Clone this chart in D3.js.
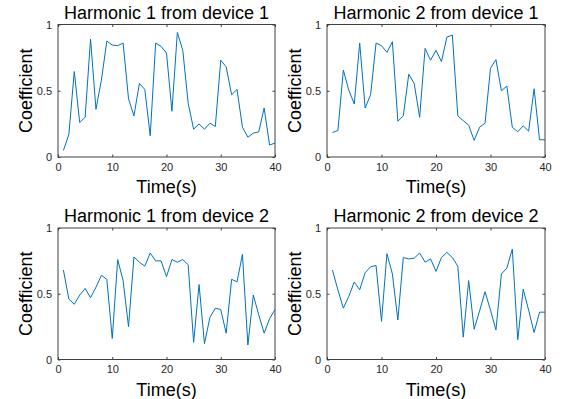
<!DOCTYPE html>
<html>
<head>
<meta charset="utf-8">
<script src="https://cdn.jsdelivr.net/npm/d3@7"></script>
<style>
  body { margin: 0; background: #fff; }
  svg { display: block; }
  .tick text { font-family: "Liberation Sans", Arial, sans-serif; font-size: 11px; fill: #262626; }
  .lbl { font-family: "Liberation Sans", Arial, sans-serif; font-size: 18px; fill: #000; }
</style>
</head>
<body>
<div id="container"></div>
<script>
const times = [1,2,3,4,5,6,7,8,9,10,11,12,13,14,15,16,17,18,19,20,
  21,22,23,24,25,26,27,28,29,30,31,32,33,34,35,36,37,38,39,40]

const h1dev1 = [0.05,0.17,0.645,0.26,0.30,0.89,0.36,0.58,0.875,0.845,
  0.84,0.86,0.44,0.31,0.555,0.51,0.16,0.86,0.835,0.785,
  0.345,0.94,0.805,0.405,0.21,0.25,0.21,0.255,0.23,0.73,
  0.68,0.47,0.51,0.225,0.15,0.18,0.19,0.37,0.09,0.105]

const h2dev1 = [0.185,0.20,0.655,0.505,0.40,0.86,0.37,0.47,0.86,0.84,
  0.79,0.87,0.27,0.31,0.625,0.555,0.30,0.82,0.73,0.805,
  0.72,0.905,0.92,0.31,0.275,0.24,0.125,0.225,0.255,0.67,
  0.735,0.50,0.535,0.225,0.19,0.235,0.195,0.515,0.13,0.13]

const h1dev2 = [0.68,0.46,0.42,0.49,0.54,0.47,0.55,0.64,0.61,0.16,
  0.76,0.60,0.25,0.78,0.74,0.71,0.81,0.75,0.75,0.63,
  0.76,0.74,0.76,0.72,0.13,0.57,0.12,0.32,0.39,0.38,
  0.20,0.61,0.59,0.80,0.11,0.49,0.34,0.20,0.31,0.38]

const h2dev2 = [0.68,0.53,0.39,0.48,0.59,0.53,0.66,0.705,0.715,0.29,
  0.805,0.65,0.30,0.775,0.765,0.77,0.81,0.74,0.765,0.67,
  0.775,0.815,0.775,0.71,0.17,0.60,0.23,0.37,0.515,0.375,
  0.225,0.65,0.695,0.84,0.15,0.535,0.375,0.205,0.36,0.36]

const titles = ['Harmonic 1 from device 1', 'Harmonic 2 from device 1',
  'Harmonic 1 from device 2', 'Harmonic 2 from device 2']
const xTicks = [0, 10, 20, 30, 40]
const yTicks = [0, 0.5, 1]

const w = 579
const h = 399

const svg = d3.select('#container')
  .append('svg')
  .attr('width', w)
  .attr('height', h)

// plot boxes: left, top, right, bottom
const panels = [
  { data: h1dev1, box: [58, 24.5, 275, 157] },
  { data: h2dev1, box: [327, 24.5, 545, 157] },
  { data: h1dev2, box: [58, 228, 275, 359.5] },
  { data: h2dev2, box: [327, 228, 545, 359.5] }
]

const axisColor = '#404040'

panels.forEach((p, i) => {
  const [l, t, r, b] = p.box
  const x = d3.scaleLinear().domain([0, 40]).range([l, r])
  const y = d3.scaleLinear().domain([0, 1]).range([b, t])
  const g = svg.append('g')

  const styleAxis = (sel) => {
    sel.select('.domain').remove()
    sel.selectAll('.tick line').attr('stroke', axisColor)
  }

  g.append('g')
    .attr('transform', 'translate(0,' + b + ')')
    .call(d3.axisBottom(x).tickValues(xTicks).tickSizeInner(-2.5).tickSizeOuter(0).tickPadding(6).tickFormat(d3.format('d')))
    .call(styleAxis)
  g.append('g')
    .attr('transform', 'translate(0,' + t + ')')
    .call(d3.axisTop(x).tickValues(xTicks).tickSizeInner(-2.5).tickSizeOuter(0).tickFormat(''))
    .call(styleAxis)
  g.append('g')
    .attr('transform', 'translate(' + l + ',0)')
    .call(d3.axisLeft(y).tickValues(yTicks).tickSizeInner(-2.5).tickSizeOuter(0).tickPadding(6).tickFormat(d3.format('')))
    .call(styleAxis)
  g.append('g')
    .attr('transform', 'translate(' + r + ',0)')
    .call(d3.axisRight(y).tickValues(yTicks).tickSizeInner(-2.5).tickSizeOuter(0).tickFormat(''))
    .call(styleAxis)

  g.append('rect')
    .attr('x', l)
    .attr('y', t)
    .attr('width', r - l)
    .attr('height', b - t)
    .attr('fill', 'none')
    .attr('stroke', axisColor)
    .attr('stroke-width', 1)

  const line = d3.line()
    .x((d, k) => x(times[k]))
    .y((d) => y(d))

  g.append('path')
    .datum(p.data)
    .attr('d', line)
    .attr('fill', 'none')
    .attr('stroke', '#0072BD')
    .attr('stroke-width', 1)

  g.append('text')
    .attr('class', 'lbl')
    .attr('x', (l + r) / 2)
    .attr('y', t - 6)
    .attr('text-anchor', 'middle')
    .text(titles[i])

  g.append('text')
    .attr('class', 'lbl')
    .attr('x', (l + r) / 2)
    .attr('y', b + 36)
    .attr('text-anchor', 'middle')
    .text('Time(s)')

  g.append('text')
    .attr('class', 'lbl')
    .attr('transform', 'translate(' + (l - 26) + ',' + ((t + b) / 2) + ') rotate(-90)')
    .attr('text-anchor', 'middle')
    .text('Coefficient')
})
</script>
</body>
</html>
